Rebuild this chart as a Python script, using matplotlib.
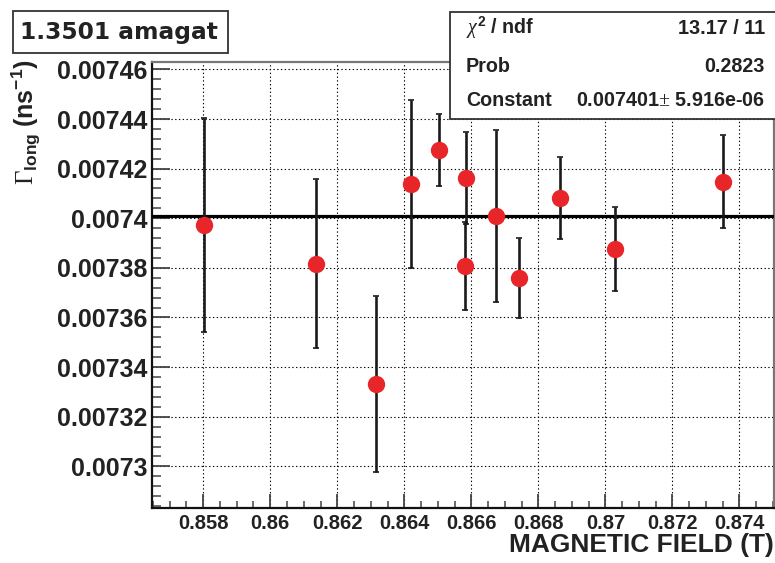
import numpy as np
import matplotlib
matplotlib.use("Agg")
import matplotlib.pyplot as plt
from matplotlib.patches import Rectangle
from matplotlib.ticker import MultipleLocator, FuncFormatter

# magnetic field (T), decay rate (ns^-1) and its error
field = [0.85803, 0.861355, 0.863164, 0.864209, 0.865045, 0.865842,
         0.865802, 0.866737, 0.867424, 0.868639, 0.870280, 0.873504]
gamma = [0.0073973, 0.0073817, 0.0073333, 0.0074138, 0.0074274, 0.0074162,
         0.0073807, 0.0074009, 0.0073759, 0.0074082, 0.0073876, 0.0074147]
gamma_err = [0.0000433, 0.0000340, 0.0000354, 0.0000337, 0.0000145, 0.0000185,
             0.0000176, 0.0000347, 0.0000163, 0.0000164, 0.0000169, 0.0000187]
fit_const = 0.007401

plt.rcParams["mathtext.fontset"] = "custom"
plt.rcParams["mathtext.rm"] = "Liberation Serif"
plt.rcParams["mathtext.it"] = "Liberation Serif:italic"
plt.rcParams["mathtext.bf"] = "Liberation Sans:bold"
SANS = "Liberation Sans"

fig = plt.figure(figsize=(7.75, 5.63), dpi=100)
ax = fig.add_axes([0.1965, 0.0972, 0.8026, 0.7932])

ax.grid(True, which="major", color="black", ls=(0, (1.2, 2.2)), lw=0.8)
ax.axhline(fit_const, color="black", lw=2.3, zorder=3)
ax.errorbar(field, gamma, yerr=gamma_err, fmt="none", ecolor="#1a1a1a",
            elinewidth=1.9, capsize=2.2, capthick=1.2, zorder=4)
ax.plot(field, gamma, "o", color="#e8262a", ms=12.5, mec="none", zorder=5)

ax.set_xlim(0.85648, 0.87504)
ax.set_ylim(0.0072831, 0.0074631)
ax.xaxis.set_major_locator(MultipleLocator(0.002))
ax.xaxis.set_minor_locator(MultipleLocator(0.0005))
ax.yaxis.set_major_locator(MultipleLocator(0.00002))
ax.yaxis.set_minor_locator(MultipleLocator(0.000004))
fmt = FuncFormatter(lambda v, p: f"{v:.6f}".rstrip("0").rstrip("."))
ax.xaxis.set_major_formatter(fmt)
ax.yaxis.set_major_formatter(fmt)

ax.tick_params(axis="both", which="both", direction="in", color="#444444",
               top=False, right=False)
ax.tick_params(axis="y", which="major", length=13, width=1.3, pad=3.3)
ax.tick_params(axis="y", which="minor", length=6.5, width=1.1)
ax.tick_params(axis="x", which="major", length=10, width=1.3, pad=4)
ax.tick_params(axis="x", which="minor", length=5, width=1.1)
for lab in ax.get_yticklabels():
    lab.set_fontfamily(SANS)
    lab.set_fontweight("bold")
    lab.set_fontsize(18)
    lab.set_color("#222222")
for lab in ax.get_xticklabels():
    lab.set_fontfamily(SANS)
    lab.set_fontweight("bold")
    lab.set_fontsize(14.5)
    lab.set_color("#222222")

for s in ["left", "bottom"]:
    ax.spines[s].set_linewidth(1.6)
    ax.spines[s].set_color("#111111")
for s in ["top", "right"]:
    ax.spines[s].set_linewidth(1.6)
    ax.spines[s].set_color("#777777")

# axis titles
fig.text(0.998, 1 - 552 / 563, "MAGNETIC FIELD (T)", ha="right", va="baseline",
         fontfamily=SANS, fontweight="bold", fontsize=19, color="#222222")
fig.text(26 / 775, 1 - 59 / 563, r"$\Gamma_{\mathbf{long}}\ \mathbf{(ns^{-1})}$",
         rotation=90, ha="center", va="top", fontsize=18, color="#222222")

# title box
fig.patches.append(Rectangle((13 / 775, 1 - 53 / 563), 215 / 775, 42 / 563,
                             transform=fig.transFigure, fill=True, fc="white",
                             ec="#333333", lw=1.3, zorder=10))
fig.text(20 / 775, 1 - 32 / 563, "1.3501 amagat", ha="left", va="center",
         fontfamily="DejaVu Sans", fontweight="bold", fontsize=16.8,
         color="#222222", zorder=11)

# fit statistics box
fig.patches.append(Rectangle((450 / 775, 1 - 119 / 563), 330 / 775, 107 / 563,
                             transform=fig.transFigure, fill=True, fc="white",
                             ec="#333333", lw=1.3, zorder=10))
rows = [(r"$\chi^{\mathbf{2}}$ / ndf", "13.17 / 11", 28),
        ("Prob", "0.2823", 66),
        ("Constant", "0.007401$\\pm$ 5.916e-06", 101)]
for left, right, yp in rows:
    fig.text(466 / 775, 1 - yp / 563, left, ha="left", va="center",
             fontfamily=SANS, fontweight="bold", fontsize=14.2,
             color="#222222", zorder=11)
    fig.text(765 / 775, 1 - yp / 563, right, ha="right", va="center",
             fontfamily=SANS, fontweight="bold", fontsize=14.2,
             color="#222222", zorder=11)

fig.savefig("out.png", dpi=100)
